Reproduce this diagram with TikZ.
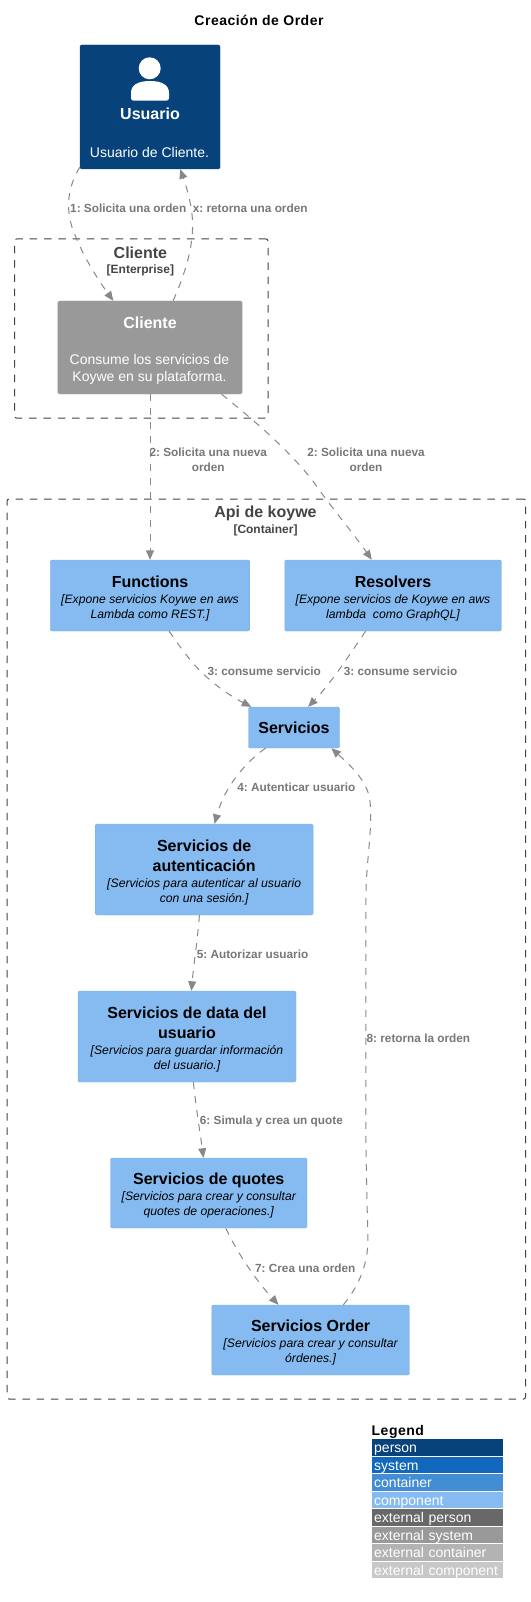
\documentclass[tikz,border=0pt]{standalone}
\usepackage{fontspec}
\setmainfont{Liberation Sans}
\usetikzlibrary{arrows.meta}
\frenchspacing
\definecolor{personfill}{HTML}{08427B}
\definecolor{systemfill}{HTML}{1168BD}
\definecolor{containerfill}{HTML}{438DD5}
\definecolor{componentfill}{HTML}{85BBF0}
\definecolor{extperson}{HTML}{686868}
\definecolor{extsystem}{HTML}{999999}
\definecolor{extcontainer}{HTML}{B3B3B3}
\definecolor{extcomponent}{HTML}{C8C8C8}
\definecolor{linegray}{HTML}{888888}
\definecolor{labelgray}{HTML}{777777}
\definecolor{boundgray}{HTML}{444444}
\newcommand{\boxname}{\fontsize{16}{20}\bfseries\selectfont}
\newcommand{\boxdesc}{\fontsize{12.2}{15}\itshape\selectfont}
\newcommand{\firstline}{\rule{0pt}{17pt}}
\tikzset{
    boxsize/.style 2 args={minimum width=#1pt,minimum height=#2pt},
    component/.style={draw=componentfill!92!black,fill=componentfill,rounded corners=1.5pt,align=center,inner sep=0pt,text=black,font=\fontsize{12}{15}\selectfont},
    external/.style={draw=extsystem!92!white,fill=extsystem,rounded corners=1.5pt,inner sep=0pt},
    boundary/.style={draw=boundgray,dash pattern=on 7.5pt off 6.8pt,rounded corners=2pt,line width=1pt,inner sep=0pt},
    boundname/.style={text=boundgray,font=\fontsize{16}{18}\bfseries\selectfont,inner sep=0pt},
    boundtype/.style={text=boundgray,font=\fontsize{12}{14}\bfseries\selectfont,inner sep=0pt},
    whitetext/.style={text=white,align=center,inner sep=0pt},
    rel/.style={draw=linegray,line width=1pt,dash pattern=on 7pt off 7pt,-{Triangle[length=9.5pt,width=8pt]}},
    rellabel/.style={text=labelgray,align=center,inner sep=0pt,font=\fontsize{11.8}{15}\bfseries\selectfont},
    titletext/.style={inner sep=0pt,font=\fontsize{14}{16}\bfseries\selectfont\addfontfeature{LetterSpace=3.5}},
    legendrow/.style={anchor=north west,text=white,text width=127pt,align=left,inner xsep=2pt,inner ysep=1.25pt,text height=12.5pt,text depth=1.5pt,font=\fontsize{14}{16}\selectfont},
}
\begin{document}
\begin{tikzpicture}[x=1pt,y=-1pt]
    \useasboundingbox (0,0) rectangle (530,1602);
    \node[titletext] (title) at (259,20) {Creación de Order};

    \node[boundary,boxsize={253.5}{179}] (clienteBound) at (141.25,328.5) {};
    \node[boundname] (clienteBoundName) at (140.4,253) {Cliente};
    \node[boundtype] (clienteBoundType) at (140.4,270.5) {[Enterprise]};
    \node[boundary,boxsize={518.5}{900}] (apiBound) at (266.25,949) {};
    \node[boundname] (apiBoundName) at (265.5,513) {Api de koywe};
    \node[boundtype] (apiBoundType) at (265.5,530.5) {[Container]};

    \node[fill=personfill,draw=personfill,rounded corners=1.5pt,boxsize={140}{124}] (usuario) at (150,107) {};
    \fill[white] (149.7,68.3) circle (11);
    \fill[white] (131,98) -- (131,93) .. controls (131,85) and (138,81) .. (150,81) .. controls (162,81) and (169,85) .. (169,93) -- (169,98) .. controls (169,100) and (168,100.7) .. (166,100.7) -- (134,100.7) .. controls (132,100.7) and (131,100) .. (131,98) -- cycle;
    \node[whitetext,font=\boxname] (usuarioName) at (150,114) {Usuario};
    \node[whitetext,font=\fontsize{14}{17}\selectfont] (usuarioDesc) at (149.5,152) {Usuario de Cliente.};

    \node[external,boxsize={184.4}{93}] (cliente) at (150,347.5) {};
    \node[whitetext,font=\boxname] (clienteName) at (150,323) {Cliente};
    \node[whitetext,font=\fontsize{14}{17}\selectfont] (clienteDesc) at (149.5,369) {Consume los servicios de\\Koywe en su plataforma.};

    \node[component,boxsize={199.5}{71}] (functions) at (150,595.5) {\firstline{\boxname Functions}\\[1pt]{\boxdesc [Expone servicios Koywe en aws}\\{\boxdesc Lambda como REST.]}};
    \node[component,boxsize={216.5}{71}] (resolvers) at (393,595.5) {\firstline{\boxname Resolvers}\\[1pt]{\boxdesc [Expone servicios de Koywe en aws}\\{\boxdesc lambda\ \ como GraphQL]}};
    \node[component,boxsize={91}{41}] (servicios) at (294,727.5) {{\boxname Servicios}};
    \node[component,boxsize={218}{91}] (autenticacion) at (204.2,869.5) {\firstline{\boxname Servicios de}\\[5pt]{\boxname autenticación}\\[1pt]{\boxdesc [Servicios para autenticar al usuario}\\{\boxdesc con una sesión.]}};
    \node[component,boxsize={218}{91}] (dataUsuario) at (187,1036.5) {\firstline{\boxname Servicios de data del}\\[5pt]{\boxname usuario}\\[1pt]{\boxdesc [Servicios para guardar información}\\{\boxdesc del usuario.]}};
    \node[component,boxsize={196.5}{70}] (quotes) at (208.75,1193) {\firstline{\boxname Servicios de quotes}\\[1pt]{\boxdesc [Servicios para crear y consultar}\\{\boxdesc quotes de operaciones.]}};
    \node[component,boxsize={197.7}{70}] (order) at (310.6,1340) {\firstline{\boxname Servicios Order}\\[1pt]{\boxdesc [Servicios para crear y consultar}\\{\boxdesc órdenes.]}};

    \draw[rel] ([yshift=2pt]usuario.south west) .. controls (66.9,188) and (64.9,212) .. (75,235) .. controls (84.1,258) and (98.3,280) .. ([xshift=55.7pt]cliente.north west);
    \draw[rel] ([xshift=115.5pt]cliente.north west) .. controls (184.5,275) and (192.6,250) .. (192.6,225) .. controls (192.6,208) and (187.5,190) .. ([xshift=100.4pt]usuario.south west);
    \draw[rel] (cliente.south) -- (functions.north);
    \draw[rel] ([xshift=164pt]cliente.south west) .. controls (253.4,420) and (286.8,448) .. (312.2,480) .. controls (329.4,505) and (354.7,535) .. ([xshift=87.2pt]resolvers.north west);
    \draw[rel] ([xshift=119pt]functions.south west) .. controls (182.4,650) and (192.6,665) .. (207.8,678) .. controls (220.9,690) and (236.1,699) .. ([xshift=3pt]servicios.north west);
    \draw[rel] ([xshift=81pt]resolvers.south west) .. controls (349.7,655) and (329.4,685) .. ([xshift=59.8pt]servicios.north west);
    \draw[rel] ([xshift=17.2pt]servicios.south west) .. controls (248.3,760) and (225,785) .. ([xshift=119.6pt]autenticacion.north west);
    \draw[rel] ([xshift=104.4pt]autenticacion.south west) .. controls (197.6,940) and (193.6,965) .. ([xshift=113.6pt]dataUsuario.north west);
    \draw[rel] ([xshift=115.6pt]dataUsuario.south west) .. controls (195.6,1105) and (199.7,1130) .. ([xshift=93.2pt]quotes.north west);
    \draw[rel] ([xshift=115.5pt]quotes.south west) .. controls (238.2,1255) and (258.4,1283) .. ([xshift=66.9pt]order.north west);
    \draw[rel] ([xshift=131.8pt]order.north west) .. controls (359.8,1285) and (368.9,1262) .. (367.9,1235) .. controls (366.9,1200) and (365.9,1160) .. (365.9,1130) -- (365.9,900) .. controls (365.9,860) and (373,830) .. (369.9,800) .. controls (366.9,780) and (349.7,765) .. ([xshift=83.1pt]servicios.south west);

    \node[rellabel,anchor=west] (solicitaOrden) at (70,208) {1: Solicita una orden};
    \node[rellabel,anchor=west] (retornaOrden) at (192.6,208) {x: retorna una orden};
    \node[rellabel] (solicitaFunctions) at (208.3,459.5) {2: Solicita una nueva\\orden};
    \node[rellabel] (solicitaResolvers) at (366,459.5) {2: Solicita una nueva\\orden};
    \node[rellabel,anchor=west] (consumeFunctions) at (207.3,671) {3: consume servicio};
    \node[rellabel,anchor=west] (consumeResolvers) at (343.6,671) {3: consume servicio};
    \node[rellabel,anchor=west] (autenticar) at (237.2,787) {4: Autenticar usuario};
    \node[rellabel,anchor=west] (autorizar) at (196.6,954.5) {5: Autorizar usuario};
    \node[rellabel,anchor=west] (simula) at (199.7,1121.5) {6: Simula y crea un quote};
    \node[rellabel,anchor=west] (creaOrden) at (254.9,1268.5) {7: Crea una orden};
    \node[rellabel,anchor=west] (retornaLa) at (366.4,1038.5) {8: retorna la orden};

    \node[titletext,anchor=west] (legend) at (371.5,1431.5) {Legend};
    \node[legendrow,fill=personfill] (legendPerson) at (372,1439) {person};
    \node[legendrow,fill=systemfill] (legendSystem) at (372,1456.5) {system};
    \node[legendrow,fill=containerfill] (legendContainer) at (372,1474) {container};
    \node[legendrow,fill=componentfill] (legendComponent) at (372,1491.5) {component};
    \node[legendrow,fill=extperson] (legendExtPerson) at (372,1509) {external person};
    \node[legendrow,fill=extsystem] (legendExtSystem) at (372,1526.5) {external system};
    \node[legendrow,fill=extcontainer] (legendExtContainer) at (372,1544) {external container};
    \node[legendrow,fill=extcomponent] (legendExtComponent) at (372,1561.5) {external component};
\end{tikzpicture}
\end{document}
